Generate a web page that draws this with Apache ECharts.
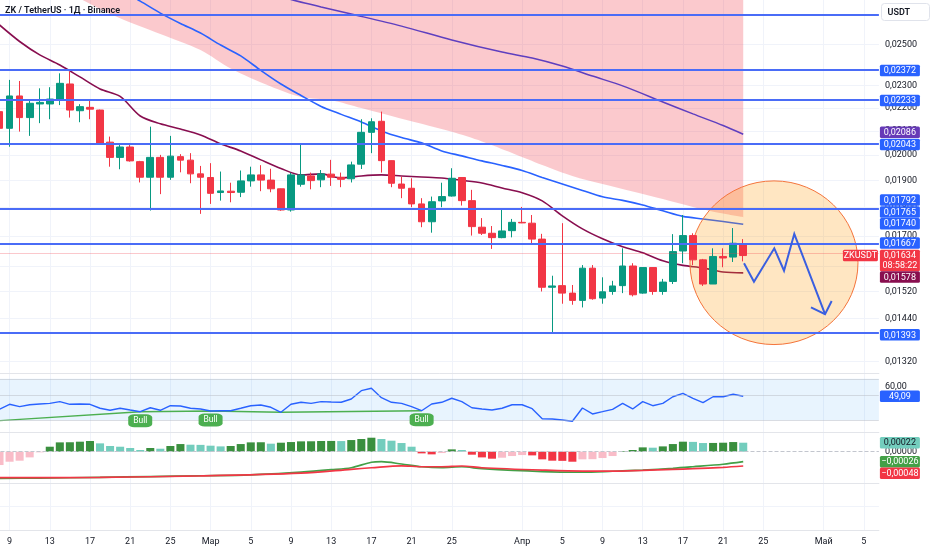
<!DOCTYPE html>
<html><head><meta charset="utf-8">
<script src="https://cdn.jsdelivr.net/npm/echarts@6/dist/echarts.min.js"></script>
<style>html,body{margin:0;padding:0;background:#fff}#c{width:932px;height:550px}</style>
</head><body><div id="c"></div>
<script>
const FONT = 'Roboto, "Noto Sans", Arial, sans-serif';
const L = Math.log;

// ---------- axis / categories ----------
const startDate = '2025-02-08';
const dayCount = 88;
const categories = [];
(function(){ const d0 = new Date(startDate + 'T00:00:00Z');
  for (let k = 0; k < dayCount; k++) categories.push(new Date(d0.getTime() + k*86400000).toISOString().slice(0,10)); })();
const monthNames = ['Янв','Фев','Мар','Апр','Май','Июн','Июл','Авг','Сен','Окт','Ноя','Дек'];
const labelDays = [1,5,9,13,17,21,25];
const priceMin = 0.01290, priceMax = 0.02733;
const tickPrices = [0.0132,0.0144,0.0152,0.0160,0.0170,0.0180,0.0190,0.0200,0.0210,0.0220,0.0230,0.0250];

// ---------- price data: [open, close, low, high] from 2025-02-08 ----------
const candles = [
[0.02183,0.02111,0.02100,0.02199],[0.02111,0.02253,0.02034,0.02327],[0.02253,0.02157,0.02097,0.02322],
[0.02157,0.02220,0.02079,0.02238],[0.02217,0.02224,0.02133,0.02288],[0.02217,0.02239,0.02150,0.02293],
[0.02239,0.02311,0.02212,0.02358],[0.02308,0.02190,0.02157,0.02366],[0.02187,0.02205,0.02137,0.02216],
[0.02202,0.02194,0.02150,0.02235],[0.02190,0.02048,0.02044,0.02192],[0.02053,0.01991,0.01954,0.02076],
[0.01991,0.02033,0.01944,0.02041],[0.02033,0.01977,0.01974,0.02041],[0.01974,0.01913,0.01893,0.01977],
[0.01913,0.01991,0.01789,0.02118],[0.01991,0.01913,0.01849,0.02001],[0.01913,0.01996,0.01903,0.02079],
[0.01994,0.01980,0.01932,0.02004],[0.01980,0.01926,0.01890,0.02008],[0.01926,0.01913,0.01777,0.01957],
[0.01912,0.01852,0.01813,0.01968],[0.01855,0.01861,0.01825,0.01935],[0.01860,0.01855,0.01819,0.01892],
[0.01856,0.01899,0.01838,0.01939],[0.01899,0.01922,0.01877,0.01954],[0.01922,0.01902,0.01860,0.01960],
[0.01902,0.01869,0.01856,0.01946],[0.01869,0.01791,0.01788,0.01870],[0.01791,0.01922,0.01785,0.01930],
[0.01886,0.01922,0.01877,0.02048],[0.01918,0.01900,0.01867,0.01931],[0.01903,0.01926,0.01875,0.01941],
[0.01925,0.01913,0.01880,0.01981],[0.01913,0.01905,0.01875,0.01931],[0.01907,0.01961,0.01893,0.01974],
[0.01964,0.02094,0.01945,0.02150],[0.02094,0.02139,0.02008,0.02154],[0.02141,0.01978,0.01931,0.02183],
[0.01978,0.01890,0.01875,0.01979],[0.01887,0.01871,0.01834,0.01915],[0.01871,0.01813,0.01801,0.01909],
[0.01813,0.01749,0.01730,0.01834],[0.01749,0.01821,0.01711,0.01840],[0.01824,0.01840,0.01801,0.01892],
[0.01842,0.01909,0.01840,0.01948],[0.01912,0.01825,0.01807,0.01912],[0.01825,0.01732,0.01701,0.01865],
[0.01730,0.01709,0.01703,0.01762],[0.01709,0.01694,0.01656,0.01734],[0.01694,0.01717,0.01692,0.01791],
[0.01718,0.01747,0.01695,0.01759],[0.01747,0.01745,0.01744,0.01802],[0.01744,0.01689,0.01675,0.01773],
[0.01689,0.01533,0.01520,0.01707],[0.01533,0.01537,0.01398,0.01569],[0.01538,0.01515,0.01483,0.01744],
[0.01515,0.01493,0.01480,0.01540],[0.01493,0.01593,0.01472,0.01603],[0.01593,0.01498,0.01495,0.01603],
[0.01500,0.01519,0.01483,0.01564],[0.01520,0.01537,0.01510,0.01553],[0.01538,0.01600,0.01515,0.01658],
[0.01600,0.01510,0.01505,0.01609],[0.01515,0.01595,0.01513,0.01596],[0.01595,0.01520,0.01510,0.01596],
[0.01520,0.01549,0.01510,0.01559],[0.01551,0.01647,0.01543,0.01706],[0.01649,0.01701,0.01609,0.01773],
[0.01701,0.01620,0.01603,0.01709],[0.01620,0.01543,0.01537,0.01623],[0.01543,0.01631,0.01543,0.01658],
[0.01631,0.01626,0.01596,0.01658],[0.01629,0.01675,0.01613,0.01727],[0.01673,0.01634,0.01615,0.01689]
];

// moving averages / cloud edge: [category index, price]
const maFast = [[0,0.02599],[2,0.02514],[4,0.02447],[6,0.02398],[8,0.02341],[10,0.02285],[12,0.02251],[14,0.02164],[16,0.02130],[18,0.02108],[20,0.02083],[22,0.02046],[24,0.02017],[26,0.01981],[28,0.01947],[30,0.01922],[32,0.01926],[34,0.01910],[36,0.01918],[38,0.01922],[40,0.01918],[42,0.01914],[44,0.01910],[46,0.01901],[48,0.01891],[50,0.01872],[52,0.01854],[54,0.01824],[56,0.01770],[58,0.01724],[60,0.01690],[62,0.01663],[64,0.01643],[66,0.01617],[68,0.01602],[70,0.01594],[72,0.01581],[74,0.01578]];
const maMid = [[0,0.03178],[6,0.02962],[12,0.02789],[14,0.02727],[16,0.02662],[18,0.02607],[20,0.02557],[22,0.02496],[24,0.02442],[26,0.02372],[28,0.02308],[30,0.02255],[32,0.02206],[34,0.02171],[36,0.02138],[38,0.02100],[40,0.02072],[42,0.02050],[44,0.02017],[46,0.01997],[48,0.01977],[50,0.01959],[52,0.01939],[54,0.01912],[56,0.01887],[58,0.01863],[60,0.01839],[62,0.01826],[64,0.01809],[66,0.01788],[68,0.01768],[70,0.01759],[72,0.01750],[74,0.01740]];
const maSlow = [[0,0.03210],[15,0.02962],[29,0.02736],[32,0.02695],[35,0.02657],[40,0.02593],[45,0.02522],[50,0.02461],[53,0.02432],[56,0.02393],[59,0.02345],[62,0.02299],[66,0.02226],[69,0.02173],[72,0.02123],[74,0.02086]];
const cloudLower = [[0,0.03000],[5,0.02850],[8,0.02741],[12,0.02634],[16,0.02552],[20,0.02471],[23,0.02381],[27,0.02296],[30,0.02248],[33,0.02234],[36,0.02199],[39,0.02164],[42,0.02130],[45,0.02096],[48,0.02056],[51,0.02009],[54,0.01961],[57,0.01918],[60,0.01887],[63,0.01859],[66,0.01831],[69,0.01802],[72,0.01778],[74,0.01765]];

// horizontal levels and last price
const levels = [0.02640,0.02372,0.02233,0.02043,0.01792,0.01667,0.01393];
const lastPrice = 0.01634;
const countdown = '08:58:22';

// price-scale tags
const tagPrices = [0.02372,0.02233,0.02086,0.02043,0.01792,0.01765,0.01740,0.01667,0.01634,0.01578,0.01393];

// annotation: ellipse + projected zigzag path
const circleCenterIdx = 77.06, circleHalfWidth = 8.36, circleTopPrice = 0.01899, circleBottomPrice = 0.01366;
const zigzagIdx = [74.08,75.07,77.09,78.06,79.08,82.14];
const zigzagPrice = [0.01609,0.01550,0.01658,0.01585,0.01707,0.01452];
const arrowWingIdx = [80.74,82.8];
const arrowWingPrice = [0.01472,0.01491];

// RSI
const rsi = [34.3,40.0,37.3,39.5,40.3,41.1,43.0,40.0,40.3,40.0,35.5,33.2,35.5,33.5,31.6,36.1,33.2,38.4,38.1,35.5,34.7,32.4,32.7,32.7,35.5,38.4,39.2,36.6,30.9,40.0,42.3,41.1,43.0,42.6,42.3,46.0,55.5,58.2,47.5,42.3,41.1,37.3,32.7,40.3,42.3,46.9,43.0,36.1,34.7,33.5,35.5,39.5,39.5,35.0,23.6,23.3,22.2,20.7,35.8,29.0,31.6,34.3,41.1,34.7,43.0,38.4,41.1,48.6,52.5,46.8,41.8,48.6,48.6,51.4,49.09];
const rsiBands = [69, 50, 22];
const rsiDivergence = [[0,21.4],[14,31.6],[21,32.4],[28,30.9],[42,32.7]];
const bullIdx = [14,21,42];

// MACD
const macdHist = [-0.000326,-0.000245,-0.00022,-0.000139,-0.000016,0.000122,0.000228,0.000231,0.000245,0.000261,0.000204,0.000139,0.000122,0.00009,0.000041,0.00009,0.000073,0.000139,0.000187,0.000171,0.000167,0.000147,0.00013,0.000139,0.000187,0.000228,0.000231,0.000196,0.00022,0.000236,0.000253,0.000255,0.000261,0.000263,0.00026,0.000285,0.00031,0.000342,0.00031,0.000269,0.000212,0.000122,-0.000041,-0.000065,-0.000033,0.000057,0.000041,-0.000073,-0.000139,-0.000171,-0.000147,-0.000106,-0.000082,-0.00009,-0.000187,-0.00022,-0.000224,-0.000245,-0.000187,-0.000183,-0.000155,-0.000106,0.000016,0.000041,0.000106,0.000098,0.00013,0.000187,0.000245,0.00024,0.000212,0.000214,0.00022,0.000236,0.00022];
const macdLine = [[0,-0.00111],[4,-0.0011],[10,-0.00106],[15,-0.00102],[20,-0.00098],[25,-0.00093],[30,-0.00079],[33,-0.00067],[35,-0.00057],[37,-0.00029],[38,-0.00026],[40,-0.00038],[42,-0.00052],[44,-0.00057],[46,-0.00052],[48,-0.00062],[54,-0.00077],[58,-0.0008],[61,-0.00075],[64,-0.00069],[67,-0.0006],[69,-0.00052],[72,-0.00039],[74,-0.00026]];
const signalLine = [[0,-0.00108],[10,-0.00106],[20,-0.00099],[30,-0.00085],[35,-0.00065],[37,-0.00057],[40,-0.00047],[42,-0.00052],[44,-0.00052],[46,-0.00048],[48,-0.00057],[54,-0.00069],[58,-0.00074],[61,-0.00074],[64,-0.0007],[67,-0.00065],[69,-0.00062],[72,-0.00055],[74,-0.00048]];

// ---------- helpers ----------
function fmt(v, dec){ const s = Math.abs(v).toFixed(dec).replace('.', ','); return (v < -1e-12 ? '−' : '') + s; }
function isLabelDay(i, value){ return labelDays.indexOf(+String(value).slice(8,10)) >= 0; }
function dateLabel(value){ const d = +value.slice(8,10); return d === 1 ? monthNames[+value.slice(5,7)-1] : String(d); }
function ptAt(api, idx, v){
  const i0 = Math.floor(idx), f = idx - i0;
  const a = api.coord([i0, v]), b = api.coord([i0+1, v]);
  return [a[0] + (b[0]-a[0])*f, a[1]];
}
const logPairs = arr => arr.map(p => [p[0], L(p[1])]);

function makeTags(xi, yi, vals, toAxis, dec, bgs, fgs, nudges, subs, sides){
  return {
    type:'custom', xAxisIndex:xi, yAxisIndex:yi, z:20, silent:true, clip:false, animation:false,
    data: vals.map(v => [0, toAxis(v)]),
    renderItem(params, api){
      const k = params.dataIndex, cs = params.coordSys;
      const y = api.coord([0, api.value(1)])[1] + (nudges[k] || 0);
      const x0 = cs.x + cs.width + 1;
      const sub = subs ? subs[k] : null;
      const h = sub ? 21.5 : 11.5;
      const ch = [
        {type:'rect', shape:{x:x0, y:y-5.75, width:40, height:h, r:1.5}, style:{fill:bgs[k]}},
        {type:'text', style:{x:x0+20, y:y+0.5, text:fmt(vals[k], dec), fill:fgs[k], font:'9px ' + FONT, align:'center', verticalAlign:'middle'}}
      ];
      if (sub) ch.push({type:'text', style:{x:x0+20, y:y+10.5, text:sub, fill:fgs[k], font:'9px ' + FONT, align:'center', verticalAlign:'middle'}});
      if (sides && sides[k]) {
        ch.push({type:'rect', shape:{x:cs.x + cs.width - 36, y:y-5.75, width:35, height:11.5, r:1.5}, style:{fill:bgs[k]}});
        ch.push({type:'text', style:{x:cs.x + cs.width - 18.5, y:y+0.5, text:sides[k], fill:'#fff', font:'9px ' + FONT, align:'center', verticalAlign:'middle'}});
      }
      return {type:'group', children:ch};
    }
  };
}

const histColors = macdHist.map((v,k) => {
  const prev = k > 0 ? macdHist[k-1] : v - 1e-6;
  if (v >= 0) return v >= prev ? '#3a8f3e' : '#73cdbd';
  return v < prev ? '#f23645' : '#f9bcc8';
});

const GL = -5.5, GR = 53.1;
function xAx(g, showLabels){
  return {
    type:'category', gridIndex:g, data:categories, boundaryGap:true,
    axisTick:{show:false},
    axisLine:{show:true, onZero:false, lineStyle:{color:'#e3e5ea', width:1}},
    axisLabel: showLabels ? {interval:isLabelDay, formatter:dateLabel, color:'#131722', fontSize:9, margin:7, fontFamily:FONT} : {show:false},
    splitLine:{show:true, interval:isLabelDay, alignWithLabel:true, lineStyle:{color:'#f0f3fa', width:1}}
  };
}

const option = {
  animation:false,
  backgroundColor:'#ffffff',
  title:{text:'ZK / TetherUS · 1Д · Binance', left:5, top:6, padding:0, textStyle:{fontSize:9, fontWeight:600, color:'#131722', fontFamily:FONT}},
  grid:[
    {left:GL, right:GR, top:0, height:373, outerBoundsMode:'none'},
    {left:GL, right:GR, top:373, height:59, outerBoundsMode:'none'},
    {left:GL, right:GR, top:432, height:51, outerBoundsMode:'none'},
    {left:GL, right:GR, top:483, height:47, outerBoundsMode:'none'}
  ],
  xAxis:[xAx(0,false), xAx(1,false), xAx(2,false), xAx(3,true)],
  yAxis:[
    {type:'value', gridIndex:0, position:'right', min:L(priceMin), max:L(priceMax), scale:true,
     axisLine:{show:false}, axisTick:{show:false, customValues:tickPrices.map(L)},
     axisLabel:{customValues:tickPrices.map(L), formatter:v => fmt(Math.exp(v),5), color:'#131722', fontSize:9, margin:6, fontFamily:FONT},
     splitLine:{show:true, lineStyle:{color:'#f0f3fa', width:1}}},
    {type:'value', gridIndex:1, position:'right', min:8.5, max:75.6,
     axisLine:{show:false}, axisTick:{show:false, customValues:[60]},
     axisLabel:{customValues:[60], formatter:v => fmt(v,2), color:'#131722', fontSize:9, margin:6, fontFamily:FONT},
     splitLine:{show:false}},
    {type:'value', gridIndex:2, position:'right', min:-0.0007653, max:0.0004817,
     axisLine:{show:false}, axisTick:{show:false, customValues:[0]},
     axisLabel:{customValues:[0], formatter:v => fmt(v,5), color:'#131722', fontSize:9, margin:6, fontFamily:FONT},
     splitLine:{show:false}},
    {type:'value', gridIndex:2, position:'right', min:-0.0013507, max:0.0012586,
     axisLine:{show:false}, axisTick:{show:false}, axisLabel:{show:false}, splitLine:{show:false}},
    {type:'value', gridIndex:3, position:'right', min:0, max:2, interval:1,
     axisLine:{show:false}, axisTick:{show:false}, axisLabel:{show:false},
     splitLine:{show:true, lineStyle:{color:'#f0f3fa', width:1}}}
  ],
  graphic:[{
    type:'group', right:2, top:3, children:[
      {type:'rect', shape:{x:0, y:0, width:48, height:17, r:3}, style:{fill:'#fff', stroke:'#e0e3eb', lineWidth:1}},
      {type:'text', style:{x:6, y:9, text:'USDT', fill:'#131722', font:'600 9px ' + FONT, verticalAlign:'middle'}}
    ]
  }],
  series:[
    {type:'line', name:'cloud', xAxisIndex:0, yAxisIndex:0, data:logPairs(cloudLower), symbol:'none', smooth:0.3,
     lineStyle:{width:0}, areaStyle:{origin:'end', color:'rgba(242,54,69,0.27)', opacity:1}, z:1, silent:true},
    {type:'line', name:'slow', xAxisIndex:0, yAxisIndex:0, data:logPairs(maSlow), symbol:'none', smooth:0.3,
     lineStyle:{color:'#5e3fbf', width:1.5}, z:3, silent:true},
    {type:'line', name:'mid', xAxisIndex:0, yAxisIndex:0, data:logPairs(maMid), symbol:'none', smooth:0.3,
     lineStyle:{color:'#2962ff', width:1.6}, z:3, silent:true},
    {type:'line', name:'fast', xAxisIndex:0, yAxisIndex:0, data:logPairs(maFast), symbol:'none', smooth:0.3,
     lineStyle:{color:'#880e4f', width:1.6}, z:3, silent:true},
    {type:'custom', name:'circle', xAxisIndex:0, yAxisIndex:0, z:3.5, silent:true, clip:false,
     data:[[0, L(lastPrice)]],
     renderItem(params, api){
       const c = ptAt(api, circleCenterIdx, L(lastPrice));
       const r = ptAt(api, circleCenterIdx + circleHalfWidth, L(lastPrice));
       const yt = api.coord([0, L(circleTopPrice)])[1], yb = api.coord([0, L(circleBottomPrice)])[1];
       return {type:'ellipse', shape:{cx:c[0], cy:(yt+yb)/2, rx:r[0]-c[0], ry:(yb-yt)/2},
               style:{fill:'rgba(255,152,0,0.24)', stroke:'#f4743b', lineWidth:1}};
     }},
    {type:'candlestick', name:'ZKUSDT', xAxisIndex:0, yAxisIndex:0, data:candles.map(c => c.map(L)), barWidth:'72%', z:4,
     itemStyle:{color:'#089981', color0:'#f23645', borderColor:'#089981', borderColor0:'#f23645', borderWidth:1},
     markLine:{silent:true, symbol:['none','none'], label:{show:false}, animation:false,
       lineStyle:{color:'#4a6cf7', width:2, type:'solid'},
       data: levels.map(p => ({yAxis:L(p)})).concat([{yAxis:L(lastPrice), lineStyle:{color:'rgba(242,54,69,0.55)', width:1, type:'dotted'}}])}},
    {type:'custom', name:'path', xAxisIndex:0, yAxisIndex:0, z:6, silent:true, clip:false,
     data:[[0, L(lastPrice)]],
     renderItem(params, api){
       const pts = zigzagIdx.map((ix,k) => ptAt(api, ix, L(zigzagPrice[k])));
       const tip = pts[pts.length-1];
       const w1 = ptAt(api, arrowWingIdx[0], L(arrowWingPrice[0]));
       const w2 = ptAt(api, arrowWingIdx[1], L(arrowWingPrice[1]));
       return {type:'group', children:[
         {type:'polyline', shape:{points:pts}, style:{stroke:'#3a5fe0', lineWidth:2, fill:null, lineJoin:'miter'}},
         {type:'polyline', shape:{points:[w1, tip, w2]}, style:{stroke:'#3a5fe0', lineWidth:2, fill:null}}
       ]};
     }},
    makeTags(0, 0, tagPrices, L, 5,
      ['#2962ff','#2962ff','#673ab7','#2962ff','#2962ff','#2962ff','#2962ff','#2962ff','#f23645','#880e4f','#2962ff'],
      tagPrices.map(() => '#ffffff'),
      [0,0,-2,0,-9.6,-5.3,-0.7,-2.7,0,4.1,0],
      [null,null,null,null,null,null,null,null,countdown,null,null],
      [null,null,null,null,null,null,null,null,'ZKUSDT',null,null]),

    // RSI pane
    {type:'line', name:'RSI', xAxisIndex:1, yAxisIndex:1, data:rsi, symbol:'none', z:3,
     lineStyle:{color:'#2962ff', width:1.4}, silent:true,
     markArea:{silent:true, itemStyle:{color:'rgba(33,150,243,0.1)'}, data:[[{yAxis:rsiBands[0]},{yAxis:rsiBands[2]}]]},
     markLine:{silent:true, symbol:['none','none'], label:{show:false},
       lineStyle:{type:'dotted', color:'#b9bcc4', width:1}, data:rsiBands.map(v => ({yAxis:v}))}},
    {type:'line', name:'div', xAxisIndex:1, yAxisIndex:1, data:rsiDivergence, symbol:'none', z:2,
     lineStyle:{color:'#4caf50', width:1.4}, silent:true,
     markPoint:{silent:true, symbol:'roundRect', symbolSize:[24,13], symbolOffset:[0,9],
       itemStyle:{color:'#4caf50'},
       label:{show:true, position:'inside', formatter:'Bull', color:'#fff', fontSize:8.5, fontFamily:FONT},
       data: bullIdx.map(i => ({coord:[i, rsiDivergence.find(p => p[0] === i)[1]]}))}},
    makeTags(1, 1, [rsi[rsi.length-1]], v => v, 2, ['#2962ff'], ['#ffffff'], [0]),

    // MACD pane
    {type:'bar', name:'hist', xAxisIndex:2, yAxisIndex:2, barWidth:'80%', z:2, silent:true,
     data: macdHist.map((v,k) => ({value:v, itemStyle:{color:histColors[k]}})),
     markLine:{silent:true, symbol:['none','none'], label:{show:false},
       lineStyle:{type:'dashed', color:'#c3c6ce', width:1}, data:[{yAxis:0}]}},
    {type:'line', name:'macd', xAxisIndex:2, yAxisIndex:3, data:macdLine, symbol:'none', smooth:0.3, z:3,
     lineStyle:{color:'#43a047', width:1.7}, silent:true},
    {type:'line', name:'signal', xAxisIndex:2, yAxisIndex:3, data:signalLine, symbol:'none', smooth:0.3, z:3,
     lineStyle:{color:'#f23645', width:1.7}, silent:true},
    makeTags(2, 2, [macdHist[macdHist.length-1]], v => v, 5, ['#73cdbd'], ['#131722'], [0]),
    makeTags(2, 3, [macdLine[macdLine.length-1][1], signalLine[signalLine.length-1][1]], v => v, 5,
      ['#43a047','#f23645'], ['#ffffff','#ffffff'], [0, 7.3])
  ]
};

const chart = echarts.init(document.getElementById('c'), null, {renderer:'canvas'});
chart.setOption(option);
</script>
</body></html>
